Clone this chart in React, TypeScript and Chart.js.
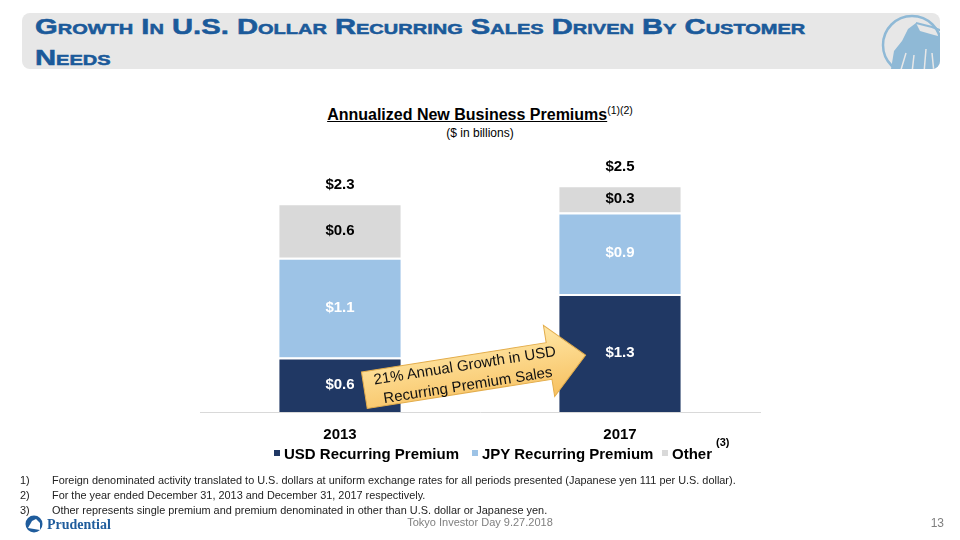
import React, { useEffect, useRef } from "react";
import { Chart, registerables } from "chart.js";

Chart.register(...registerables);

const categories = ["2013", "2017"];
const seriesNames = ["USD Recurring Premium", "JPY Recurring Premium", "Other"];
const usdRecurring = [0.6, 1.3];
const jpyRecurring = [1.1, 0.9];
const otherPremium = [0.6, 0.3];
const totals = [2.3, 2.5];
const seriesColors = ["#203864", "#9dc3e6", "#d9d9d9"];
const labelColors = ["#ffffff", "#ffffff", "#000000"];

const FONT = "'Liberation Sans', Arial, sans-serif";

const labelsPlugin = {
  id: "segLabels",
  afterDatasetsDraw(chart: any) {
    const ctx = chart.ctx;
    ctx.save();
    ctx.textAlign = "center";
    ctx.textBaseline = "middle";
    ctx.font = `bold 15px ${FONT}`;
    chart.data.datasets.forEach((ds: any, di: number) => {
      const meta = chart.getDatasetMeta(di);
      meta.data.forEach((el: any, i: number) => {
        const v = ds.data[i];
        ctx.fillStyle = labelColors[di];
        ctx.fillText("$" + v.toFixed(1), el.x, (el.y + el.base) / 2);
      });
    });
    const last = chart.getDatasetMeta(chart.data.datasets.length - 1);
    last.data.forEach((el: any, i: number) => {
      ctx.fillStyle = "#000";
      ctx.fillText("$" + totals[i].toFixed(1), el.x, el.y - 18);
    });
    ctx.restore();
  },
};

function BarChart() {
  const ref = useRef<HTMLCanvasElement | null>(null);
  useEffect(() => {
    if (!ref.current) return;
    const values = [usdRecurring, jpyRecurring, otherPremium];
    const chart = new Chart(ref.current, {
      type: "bar",
      data: {
        labels: categories,
        datasets: values.map((d, i) => ({
          label: seriesNames[i],
          data: d,
          backgroundColor: seriesColors[i],
          borderColor: "#ffffff",
          borderWidth: { top: 2, left: 0, right: 0, bottom: 0 },
          borderSkipped: false,
          barPercentage: 0.434,
          categoryPercentage: 1,
        })),
      },
      options: {
        animation: false,
        responsive: false,
        maintainAspectRatio: false,
        layout: { padding: { left: 200, right: 200, top: 8, bottom: 6 } },
        plugins: { legend: { display: false }, tooltip: { enabled: false } },
        scales: {
          x: {
            stacked: true,
            grid: { display: false, drawTicks: false },
            border: { display: true, color: "#d9d9d9", width: 1 },
            ticks: { color: "#000", font: { family: FONT, size: 15, weight: "bold" }, padding: 14 },
          },
          y: {
            stacked: true,
            display: false,
            min: 0,
            max: 2.8,
          },
        },
      },
      plugins: [labelsPlugin],
    });
    return () => chart.destroy();
  }, []);
  return (
    <canvas
      ref={ref}
      width={960}
      height={314}
      style={{ position: "absolute", left: 0, top: 150, width: 960, height: 314 }}
    />
  );
}

const footnotes = [
  "Foreign denominated activity translated to U.S. dollars at uniform exchange rates for all periods presented (Japanese yen 111 per U.S. dollar).",
  "For the year ended December 31, 2013 and December 31, 2017 respectively.",
  "Other represents single premium and premium denominated in other than U.S. dollar or Japanese  yen.",
];

export default function App() {
  useEffect(() => {
    document.body.style.margin = "0";
  }, []);
  const legendPos = [274, 472, 662];
  return (
    <div style={{ position: "relative", width: 960, height: 540, overflow: "hidden", background: "#fff", fontFamily: FONT }}>
      {/* banner */}
      <div style={{ position: "absolute", left: 22, top: 13, width: 918, height: 56, background: "#e7e7e7", borderRadius: 8, overflow: "hidden" }}>
        <svg width={918} height={56} style={{ position: "absolute", left: 0, top: 0 }}>
          <g transform="translate(890,32)">
            <circle r={29} fill="none" stroke="#8fb9d6" strokeWidth={2.5} />
            <path d="M-22,30 L-18,6 L-10,-4 L-4,-16 L4,-22 L8,-14 L22,-10 L30,-8 L30,30 Z" fill="#8fb9d6" />
            <path d="M4,-22 L20,-18 L30,-14" fill="none" stroke="#8fb9d6" strokeWidth={2} />
            <path d="M-12,28 L-6,8 M0,28 L2,10 M12,28 L14,4 M22,28 L20,8" stroke="#e7e7e7" strokeWidth={1.5} />
          </g>
        </svg>
        <div style={{ position: "absolute", left: 13, top: -2.5, fontVariant: "small-caps", fontWeight: "bold", fontSize: 29.2, lineHeight: "40px", color: "#1b5a9a", WebkitTextStroke: "0.7px #1b5a9a", width: 850, transform: "scaleY(0.77)", transformOrigin: "top left" }}>
          Growth In U.S. Dollar Recurring Sales Driven By Customer Needs
        </div>
      </div>
      {/* chart title */}
      <div style={{ position: "absolute", left: 0, top: 104, width: 960, textAlign: "center", color: "#000" }}>
        <span style={{ fontWeight: "bold", fontSize: 16, textDecoration: "underline" }}>Annualized New Business Premiums</span>
        <span style={{ fontSize: 10.5, verticalAlign: "super" }}>(1)(2)</span>
      </div>
      <div style={{ position: "absolute", left: 0, top: 126, width: 960, textAlign: "center", fontSize: 12, color: "#000" }}>
        ($ in billions)
      </div>
      <BarChart />
      {/* arrow */}
      <svg width={960} height={540} style={{ position: "absolute", left: 0, top: 0, pointerEvents: "none" }}>
        <defs>
          <linearGradient id="ag" x1="0" y1="0" x2="0" y2="1">
            <stop offset="0" stopColor="#ffe7a6" />
            <stop offset="1" stopColor="#f7c060" />
          </linearGradient>
        </defs>
        <g transform="translate(473,373) rotate(-9)">
          <polygon points="-110,-18.5 77,-18.5 77,-36 114,0 77,36 77,18.5 -110,18.5" fill="url(#ag)" stroke="#e3ad4c" strokeWidth={1} />
          <text x={-7} y={-4} textAnchor="middle" fontFamily={FONT} fontSize={15} fill="#111">21% Annual Growth in USD</text>
          <text x={-7} y={16} textAnchor="middle" fontFamily={FONT} fontSize={15} fill="#111">Recurring Premium Sales</text>
        </g>
      </svg>
      {/* legend */}
      {seriesNames.map((n, i) => (
        <div key={n} style={{ position: "absolute", left: legendPos[i], top: 443, height: 20, display: "flex", alignItems: "center", fontWeight: "bold", fontSize: 15, color: "#000", whiteSpace: "nowrap" }}>
          <span style={{ display: "inline-block", width: 6, height: 6, background: seriesColors[i], marginRight: 4 }} />
          {n}
          {i === 2 ? <span style={{ fontSize: 11, position: "relative", top: -11, marginLeft: 4 }}>(3)</span> : null}
        </div>
      ))}
      {/* footnotes */}
      {footnotes.map((f, i) => (
        <div key={i} style={{ position: "absolute", left: 20, top: 474 + i * 15, fontSize: 10.9, color: "#222", whiteSpace: "nowrap" }}>
          <span style={{ display: "inline-block", width: 32 }}>{i + 1})</span>
          {f}
        </div>
      ))}
      {/* footer */}
      <svg width={90} height={20} style={{ position: "absolute", left: 25, top: 514 }}>
        <circle cx={9} cy={10} r={8.5} fill="#1f5c9c" />
        <path d="M3,14 L7,7 L11,5 L15,9 L15,16 Z" fill="#fff" />
        <text x={22} y={15} fontFamily="'Liberation Serif', serif" fontWeight="bold" fontSize={14} fill="#1f5c9c">Prudential</text>
      </svg>
      <div style={{ position: "absolute", left: 0, top: 516, width: 960, textAlign: "center", fontSize: 11, color: "#7f7f7f" }}>
        Tokyo Investor Day 9.27.2018
      </div>
      <div style={{ position: "absolute", left: 920, top: 516, width: 24, textAlign: "right", fontSize: 12, color: "#7f7f7f" }}>13</div>
    </div>
  );
}
